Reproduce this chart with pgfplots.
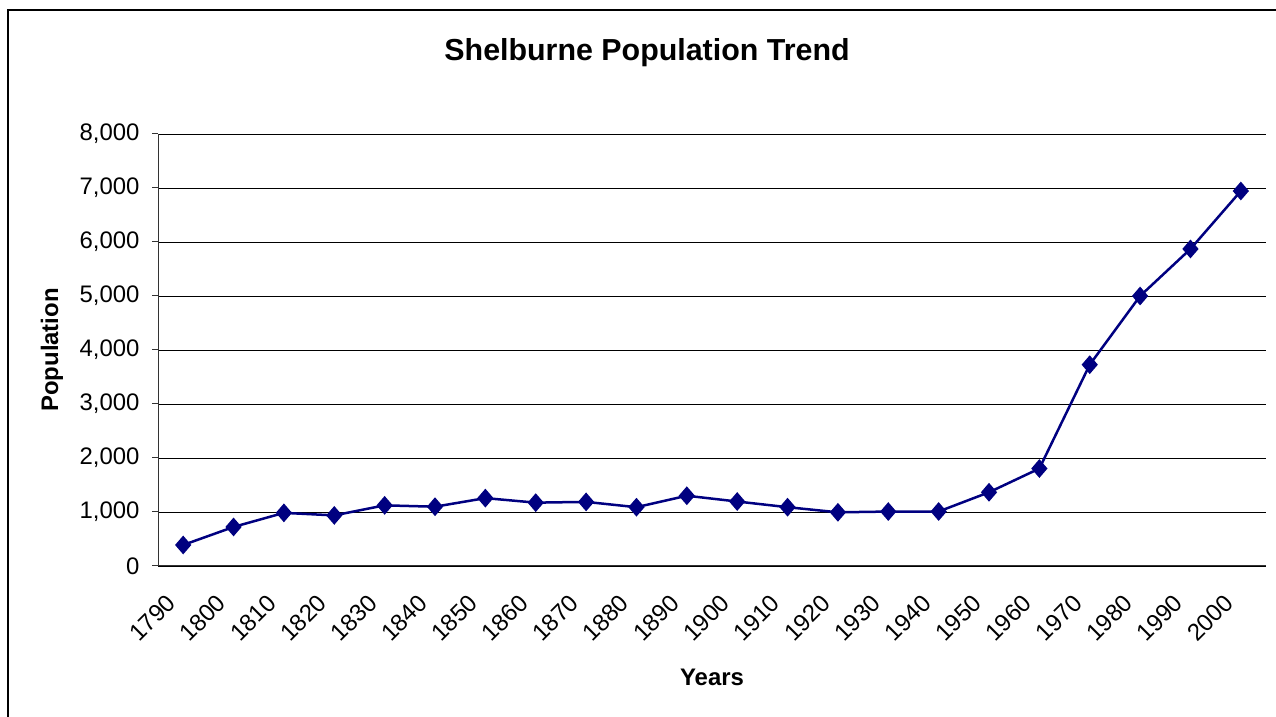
\documentclass[border=0pt]{standalone}
\usepackage{fontspec}
\setmainfont{Liberation Sans}
\usepackage{pgfplots}
\pgfplotsset{compat=1.18}
\definecolor{navyline}{RGB}{0,0,128}
\begin{document}
\begin{tikzpicture}[x=1bp,y=1bp]
\useasboundingbox (0,0) rectangle (1276,717);
\draw[line width=1.5bp] (8,0) -- (8,707) -- (1276,707);
\node[font=\bfseries\fontsize{30.5}{36}\selectfont] at (647,664) {Shelburne Population Trend};
\begin{axis}[
  at={(158bp,151bp)}, anchor=south west,
  scale only axis, width=1108bp, height=432bp,
  xmin=0, xmax=22, ymin=0, ymax=8000,
  axis lines*=left,
  axis line style={black!80, line width=1bp},
  ytick={0,1000,...,8000},
  xtick={0.5,1.5,2.5,3.5,4.5,5.5,6.5,7.5,8.5,9.5,10.5,11.5,12.5,13.5,14.5,15.5,16.5,17.5,18.5,19.5,20.5,21.5},
  xticklabels={1790,1800,1810,1820,1830,1840,1850,1860,1870,1880,1890,1900,1910,1920,1930,1940,1950,1960,1970,1980,1990,2000},
  minor xtick={0,1,...,22},
  xtick style={draw=none},
  minor x tick style={black!80, line width=1bp},
  y tick style={black!80, line width=1bp},
  tick align=outside,
  major tick length=6bp, minor tick length=6bp,
  ymajorgrids,
  major grid style={black, line width=0.8bp},
  ticklabel style={font=\fontsize{24}{28}\selectfont},
  xticklabel style={xshift=-18bp, yshift=-18bp, rotate=45, anchor=north east, inner sep=2bp},
  yticklabel style={xshift=-9bp},
  /pgf/number format/assume math mode=true,
  /pgf/number format/1000 sep={,},
  scaled y ticks=false,
  xlabel={Years}, ylabel={Population},
  label style={font=\bfseries\fontsize{24}{28}\selectfont},
  xlabel style={at={(axis description cs:0.5,-0.257)}, anchor=center},
  ylabel style={at={(axis description cs:-0.0957,0.5)}, anchor=center},
  clip=false,
]
\addplot[color=navyline, line width=2.5bp, mark=diamond*, mark size=7.5bp, mark options={solid, fill=navyline, xscale=1.15}] coordinates {
(0.5,389) (1.5,723) (2.5,984) (3.5,937) (4.5,1123) (5.5,1098) (6.5,1257) (7.5,1173)
(8.5,1187) (9.5,1089) (10.5,1301) (11.5,1194) (12.5,1089) (13.5,994) (14.5,1008)
(15.5,1009) (16.5,1365) (17.5,1805) (18.5,3728) (19.5,5000) (20.5,5871) (21.5,6944)
};
\end{axis}
\end{tikzpicture}
\end{document}
